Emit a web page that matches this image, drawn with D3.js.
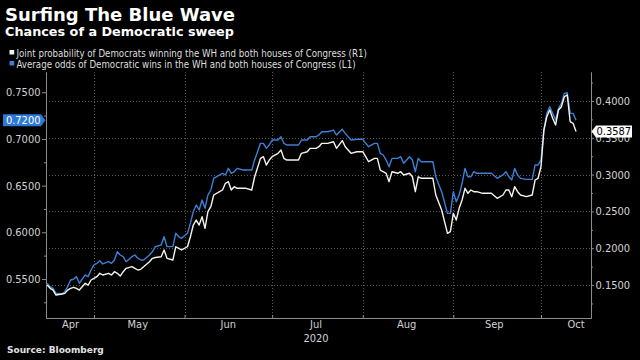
<!DOCTYPE html>
<html><head><meta charset="utf-8">
<script src="https://cdn.jsdelivr.net/npm/d3@7"></script>
<style>html,body{margin:0;padding:0;background:#000;} svg{display:block}</style>
</head><body>
<svg id="c" width="640" height="360"></svg>
<script>
// ---------- data ----------
const dates = ["2020-04-15","2020-04-16","2020-04-17","2020-04-18","2020-04-20","2020-04-21","2020-04-22","2020-04-23","2020-04-24","2020-04-25","2020-04-26","2020-04-28","2020-04-29","2020-04-30",
"2020-05-01","2020-05-02","2020-05-03","2020-05-04","2020-05-06","2020-05-07","2020-05-08","2020-05-09","2020-05-10","2020-05-11","2020-05-12","2020-05-14","2020-05-15","2020-05-16","2020-05-17","2020-05-18","2020-05-20","2020-05-21","2020-05-22","2020-05-24","2020-05-25","2020-05-26","2020-05-28","2020-05-29","2020-05-30","2020-05-31",
"2020-06-02","2020-06-03","2020-06-04","2020-06-05","2020-06-06","2020-06-07","2020-06-08","2020-06-09","2020-06-10","2020-06-11","2020-06-13","2020-06-14","2020-06-15","2020-06-16","2020-06-17","2020-06-18","2020-06-19","2020-06-21","2020-06-22","2020-06-24","2020-06-25","2020-06-27","2020-06-28","2020-06-29","2020-06-30",
"2020-07-01","2020-07-03","2020-07-04","2020-07-05","2020-07-06","2020-07-08","2020-07-10","2020-07-11","2020-07-13","2020-07-14","2020-07-16","2020-07-17","2020-07-18","2020-07-20","2020-07-22","2020-07-23","2020-07-25","2020-07-26","2020-07-28","2020-07-30",
"2020-08-01","2020-08-02","2020-08-03","2020-08-05","2020-08-06","2020-08-07","2020-08-08","2020-08-09","2020-08-10","2020-08-11","2020-08-13","2020-08-14","2020-08-15","2020-08-17","2020-08-18","2020-08-19","2020-08-20","2020-08-21","2020-08-23","2020-08-25","2020-08-26","2020-08-28","2020-08-30","2020-08-31",
"2020-09-01","2020-09-02","2020-09-03","2020-09-04","2020-09-05","2020-09-06","2020-09-07","2020-09-08","2020-09-09","2020-09-11","2020-09-12","2020-09-14","2020-09-16","2020-09-18","2020-09-19","2020-09-20","2020-09-21","2020-09-22","2020-09-23","2020-09-24","2020-09-26","2020-09-28","2020-09-29","2020-09-30",
"2020-10-01","2020-10-02","2020-10-03","2020-10-04","2020-10-05","2020-10-06","2020-10-07","2020-10-08","2020-10-09","2020-10-10","2020-10-11","2020-10-12","2020-10-13"];

// Average odds of Democratic wins in the WH and both houses of Congress (L1)
const avgOddsL1 = [0.5454,0.5418,0.5400,0.5347,0.5339,0.5364,0.5418,0.5489,0.5497,0.5525,0.5454,0.5543,0.5525,0.5596,
0.5650,0.5668,0.5696,0.5661,0.5685,0.5668,0.5703,0.5792,0.5757,0.5739,0.5685,0.5739,0.5757,0.5722,0.5703,0.5703,0.5757,0.5792,0.5846,0.5864,0.5953,0.5846,0.5846,0.5989,0.5953,0.5936,
0.5989,0.6096,0.6221,0.6292,0.6239,0.6346,0.6257,0.6399,0.6453,0.6578,0.6614,0.6632,0.6614,0.6685,0.6632,0.6649,0.6685,0.6667,0.6667,0.6667,0.6774,0.6953,0.6953,0.6899,0.6935,
0.6988,0.6988,0.7024,0.6953,0.6935,0.6935,0.6935,0.6988,0.6988,0.7024,0.7024,0.7042,0.7077,0.7077,0.7095,0.7042,0.7103,0.7060,0.6988,0.6996,
0.6996,0.6953,0.6917,0.6953,0.6953,0.6846,0.6828,0.6774,0.6702,0.6792,0.6792,0.6810,0.6739,0.6810,0.6774,0.6649,0.6792,0.6756,0.6756,0.6756,0.6595,0.6435,0.6203,0.6203,
0.6435,0.6328,0.6399,0.6525,0.6685,0.6595,0.6595,0.6649,0.6632,0.6632,0.6632,0.6632,0.6578,0.6614,0.6649,0.6595,0.6560,0.6685,0.6614,0.6578,0.6567,0.6567,0.6721,0.6721,
0.6774,0.7095,0.7274,0.7345,0.7274,0.7202,0.7328,0.7381,0.7488,0.7495,0.7274,0.7274,0.7200];

// Joint probability of Democrats winning the WH and both houses of Congress (R1)
const jointProbR1 = [0.1500,0.1455,0.1432,0.1364,0.1378,0.1387,0.1432,0.1455,0.1469,0.1455,0.1432,0.1523,0.1500,0.1568,
0.1591,0.1613,0.1659,0.1636,0.1659,0.1636,0.1681,0.1659,0.1622,0.1681,0.1727,0.1749,0.1727,0.1704,0.1713,0.1749,0.1817,0.1863,0.1874,0.1884,0.1976,0.1863,0.1840,0.2020,0.1999,0.1976,
0.2020,0.2156,0.2315,0.2383,0.2315,0.2428,0.2270,0.2496,0.2564,0.2723,0.2768,0.2791,0.2882,0.2904,0.2791,0.2836,0.2814,0.2814,0.2814,0.2791,0.2971,0.3221,0.3243,0.3130,0.3198,
0.3243,0.3289,0.3334,0.3221,0.3198,0.3198,0.3198,0.3289,0.3311,0.3357,0.3357,0.3379,0.3425,0.3425,0.3447,0.3357,0.3461,0.3379,0.3289,0.3311,
0.3311,0.3243,0.3175,0.3221,0.3221,0.3062,0.3039,0.3018,0.2904,0.3039,0.3018,0.3039,0.2995,0.3018,0.2971,0.2768,0.2971,0.2950,0.2950,0.2950,0.2723,0.2519,0.2202,0.2224,
0.2474,0.2383,0.2542,0.2655,0.2814,0.2746,0.2791,0.2768,0.2768,0.2746,0.2746,0.2746,0.2678,0.2723,0.2791,0.2791,0.2700,0.2836,0.2768,0.2723,0.2700,0.2723,0.2927,0.2950,
0.3107,0.3606,0.3787,0.3878,0.3765,0.3674,0.3878,0.3923,0.4058,0.4082,0.3719,0.3697,0.3587];

const leftTicks = [0.55, 0.60, 0.65, 0.70, 0.75];
const leftMinorTicks = [0.525, 0.575, 0.625, 0.675, 0.725, 0.775];
const rightTicks = [0.15, 0.20, 0.25, 0.30, 0.35, 0.40];
const rightMinorTicks = [0.125, 0.175, 0.225, 0.275, 0.325, 0.375, 0.425];
const monthBoundaries = ["2020-05-01","2020-06-01","2020-07-01","2020-08-01","2020-09-01","2020-10-01"];
const monthLabels = ["Apr","May","Jun","Jul","Aug","Sep","Oct"];
const monthLabelDates = ["2020-04-23","2020-05-16","2020-06-16","2020-07-16","2020-08-16","2020-09-15","2020-10-13"];
const yearLabel = "2020";
const yearLabelDate = "2020-07-16";
const seriesNames = ["Joint probability of Democrats winning the WH and both houses of Congress (R1)",
                     "Average odds of Democratic wins in the WH and both houses of Congress (L1)"];
const title = "Surfing The Blue Wave";
const subtitle = "Chances of a Democratic sweep";
const source = "Source: Bloomberg";

// ---------- layout ----------
const parse = d3.utcParse("%Y-%m-%d");
const L = 46, R = 591, T = 72, B = 318;
const BLUE = "#3b80d6", WHITE = "#f4f3ec", AXIS = "#8c8c8c", LABEL = "#d2d2d2", GRID = "#5a5a5a";
const FONT = "'DejaVu Sans Condensed','DejaVu Sans',sans-serif";

const x = d3.scaleUtc()
  .domain([new Date(Date.UTC(2020,3,14,14)), new Date(Date.UTC(2020,9,18,3))])
  .range([L, R]);
const yL = d3.scaleLinear().domain([0.5082, 0.7717]).range([B, T]);
const yR = d3.scaleLinear().domain([0.1052, 0.4394]).range([B, T]);

const svg = d3.select("#c");
svg.append("rect").attr("width",640).attr("height",360).attr("fill","#000");

// titles
svg.append("text").attr("x",5).attr("y",20.5).text(title)
  .attr("font-family","'DejaVu Sans',sans-serif").attr("font-weight","bold").attr("font-size",18).attr("fill","#fff");
svg.append("text").attr("x",5).attr("y",36).text(subtitle)
  .attr("font-family","'DejaVu Sans',sans-serif").attr("font-weight","bold").attr("font-size",12.8).attr("fill","#fff");

// legend
const leg = svg.append("g");
[[WHITE, 50], [BLUE, 61]].forEach((d,i)=>{
  leg.append("rect").attr("x",9.5).attr("y",d[1]).attr("width",4.7).attr("height",4.5).attr("fill",d[0]);
  leg.append("text").attr("x",16.5).attr("y",d[1]+6.5).text(seriesNames[i])
    .attr("font-family",FONT).attr("font-size",9.65).attr("fill","#dedede");
});

// grid
const grid = svg.append("g").attr("stroke",GRID).attr("stroke-width",1).attr("stroke-dasharray","1,2");
grid.selectAll("line.h").data(rightTicks).join("line")
  .attr("x1",L).attr("x2",R).attr("y1",d=>Math.round(yR(d))+0.5).attr("y2",d=>Math.round(yR(d))+0.5);
grid.selectAll("line.v").data(monthBoundaries).join("line")
  .attr("y1",T).attr("y2",B).attr("x1",d=>Math.round(x(parse(d)))+0.5).attr("x2",d=>Math.round(x(parse(d)))+0.5);

function styleAxis(g){
  g.select(".domain").attr("stroke",AXIS);
  g.selectAll(".tick line").attr("stroke",AXIS);
  g.selectAll(".tick text").attr("fill",LABEL).attr("font-family",FONT).attr("font-size",11);
}

// left axis
const gl = svg.append("g").attr("transform",`translate(${L},0)`)
  .call(d3.axisLeft(yL).tickValues(leftTicks).tickFormat(d3.format(".4f")).tickSize(4).tickSizeOuter(0).tickPadding(1.5));
styleAxis(gl);
const glm = svg.append("g").attr("transform",`translate(${L},0)`)
  .call(d3.axisLeft(yL).tickValues(leftMinorTicks).tickFormat("").tickSize(2).tickSizeOuter(0));
styleAxis(glm);

// right axis
const gr = svg.append("g").attr("transform",`translate(${R},0)`)
  .call(d3.axisRight(yR).tickValues(rightTicks).tickFormat(d3.format(".4f")).tickSize(3).tickSizeOuter(0).tickPadding(1.5));
styleAxis(gr);
const grm = svg.append("g").attr("transform",`translate(${R},0)`)
  .call(d3.axisRight(yR).tickValues(rightMinorTicks).tickFormat("").tickSize(2).tickSizeOuter(0));
styleAxis(grm);

// bottom axis
const gb = svg.append("g").attr("transform",`translate(0,${B})`)
  .call(d3.axisBottom(x).tickValues(monthBoundaries.map(parse)).tickFormat("").tickSize(-3).tickSizeOuter(0));
styleAxis(gb);
svg.append("g").selectAll("text").data(monthLabels).join("text")
  .attr("x",(d,i)=>x(parse(monthLabelDates[i]))).attr("y",328).attr("text-anchor","middle")
  .attr("font-family",FONT).attr("font-size",11).attr("fill",LABEL).text(d=>d);
svg.append("text").attr("x",x(parse(yearLabelDate))).attr("y",342).attr("text-anchor","middle")
  .attr("font-family",FONT).attr("font-size",11).attr("fill",LABEL).text(yearLabel);

// source
svg.append("text").attr("x",7).attr("y",353).text(source)
  .attr("font-family","'DejaVu Sans',sans-serif").attr("font-weight","bold").attr("font-size",9).attr("fill","#e0e0e0");

// lines
const pts = dates.map((d,i)=>({d:parse(d), l:avgOddsL1[i], r:jointProbR1[i]}));
svg.append("path").datum(pts)
  .attr("d", d3.line().x(p=>x(p.d)).y(p=>yL(p.l)))
  .attr("fill","none").attr("stroke",BLUE).attr("stroke-width",1.4).attr("stroke-linejoin","round");
svg.append("path").datum(pts)
  .attr("d", d3.line().x(p=>x(p.d)).y(p=>yR(p.r)))
  .attr("fill","none").attr("stroke",WHITE).attr("stroke-width",1.4).attr("stroke-linejoin","round");

// last value tags
const lastL = avgOddsL1[avgOddsL1.length-1], lastR = jointProbR1[jointProbR1.length-1];
const ty = yL(lastL);
svg.append("path").attr("d",`M3,${ty-6}H41L45.5,${ty}L41,${ty+6}H3Z`).attr("fill","#2d78d6");
svg.append("text").attr("x",40.5).attr("y",ty+4).attr("text-anchor","end").text(d3.format(".4f")(lastL))
  .attr("font-family",FONT).attr("font-size",11).attr("fill","#fff");
const ry = yR(lastR);
svg.append("path").attr("d",`M591.5,${ry}L596,${ry-6}H632V${ry+6}H596Z`).attr("fill","#fff");
svg.append("text").attr("x",596.5).attr("y",ry+4).text(d3.format(".4f")(lastR))
  .attr("font-family",FONT).attr("font-size",11).attr("fill","#000");
</script>
</body></html>
